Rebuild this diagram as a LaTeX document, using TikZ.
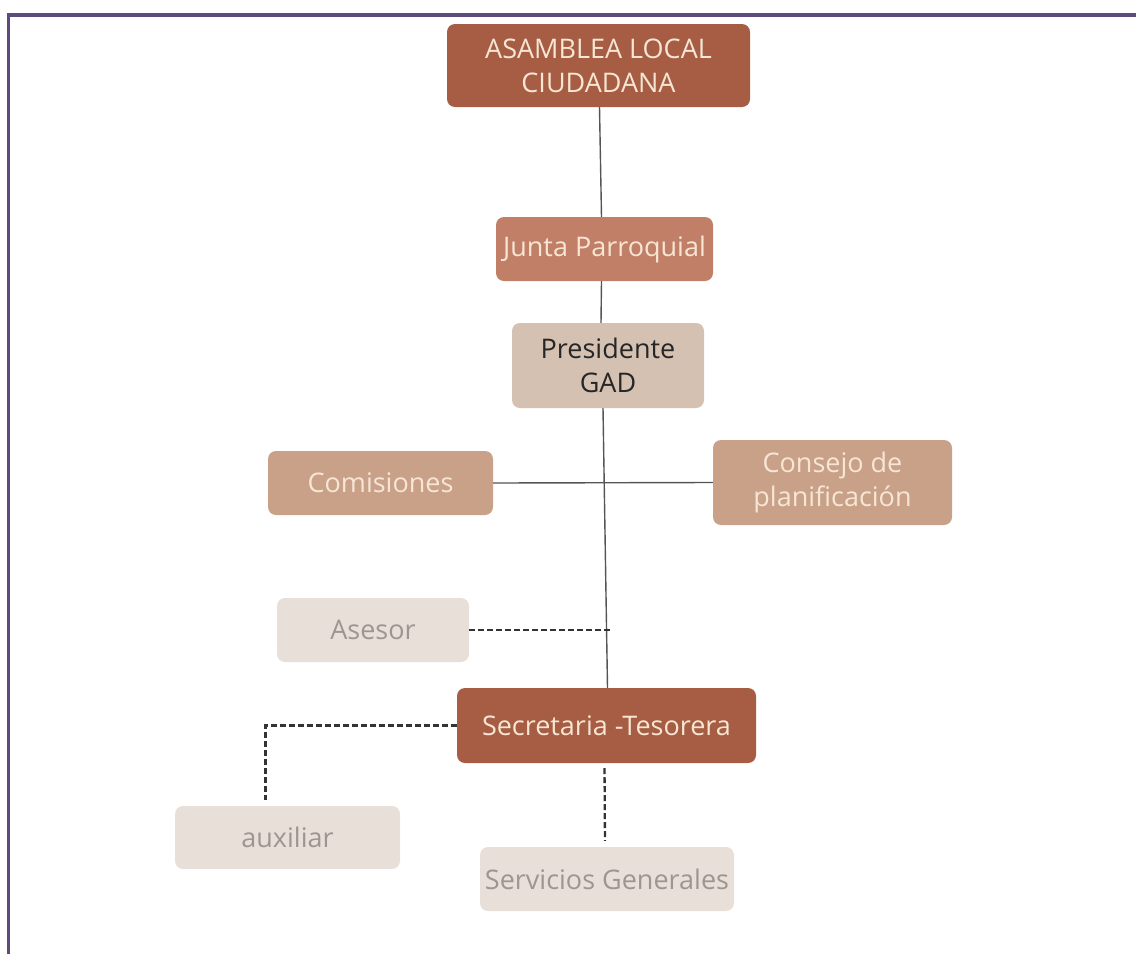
\documentclass[tikz,border=0pt]{standalone}
\usepackage{fontspec}
\setmainfont{Open Sans}
\usetikzlibrary{positioning}

\definecolor{framepurple}{HTML}{5E4B7C}
\definecolor{brick}{HTML}{A65D43}
\definecolor{clay}{HTML}{C17F68}
\definecolor{taupe}{HTML}{D5C1B2}
\definecolor{tan}{HTML}{C9A189}
\definecolor{sand}{HTML}{E8E0D8}
\definecolor{cream}{HTML}{F7E6D4}
\definecolor{softgray}{HTML}{9C9693}
\definecolor{linegray}{HTML}{555555}

\begin{document}
\begin{tikzpicture}[x=1pt,y=-1pt,
  box/.style={rounded corners=8pt, align=center, inner sep=0pt,
    font=\fontsize{27}{34}\selectfont},
  link/.style={draw=linegray, line width=1.4pt},
  dlink/.style={draw=black!80, line width=2.3pt, dash pattern=on 6pt off 3pt}]
  \useasboundingbox (0,0) rectangle (1136,954);
  \draw[framepurple, line width=3.5pt] (8.5,954) -- (8.5,15) -- (1136,15);

  % boxes
  \node[box, fill=brick, text=cream, minimum width=303pt, minimum height=83pt]
    (asamblea) at (598.5,65.5) {ASAMBLEA LOCAL\\CIUDADANA};
  \node[box, fill=clay, text=cream, minimum width=217pt, minimum height=64pt]
    (junta) at (604.5,249) {Junta Parroquial};
  \node[box, fill=taupe, text=black!85, minimum width=192pt, minimum height=85pt]
    (presidente) at (608,365.5) {Presidente\\GAD};
  \node[box, fill=tan, text=cream, minimum width=225pt, minimum height=64pt]
    (comisiones) at (380.5,483) {Comisiones};
  \node[box, fill=tan, text=cream, minimum width=239pt, minimum height=85pt]
    (consejo) at (832.5,482.5) {Consejo de\\planificación};
  \node[box, fill=sand, text=softgray, minimum width=192pt, minimum height=64pt]
    (asesor) at (373,630) {Asesor};
  \node[box, fill=brick, text=cream, minimum width=299pt, minimum height=75pt]
    (secretaria) at (606.5,725.5) {Secretaria -Tesorera};
  \node[box, fill=sand, text=softgray, minimum width=225pt, minimum height=63pt]
    (auxiliar) at (287.5,837.5) {auxiliar};
  \node[box, fill=sand, text=softgray, minimum width=254pt, minimum height=64pt]
    (servicios) at (607,879) {Servicios Generales};

  % solid lines
  \draw[link] ([xshift=1pt]asamblea.south) -- ([xshift=-3pt]junta.north);
  \draw[link] ([xshift=-3pt]junta.south) -- ([xshift=-7pt]presidente.north);
  \draw[link] ([xshift=-5pt]presidente.south) -- ([xshift=1pt]secretaria.north);
  \draw[link] (comisiones.east) -- (consejo.west);

  % dashed lines
  \draw[dlink] (asesor.east) -- ([xshift=3pt]asesor.east -| secretaria.north);
  \draw[dlink, shorten >=6pt] (secretaria.west) -| ([xshift=-22pt]auxiliar.north);
  \draw[dlink, shorten <=5pt, shorten >=6pt] ([xshift=-2pt]secretaria.south) -- ([xshift=-2pt]servicios.north);
\end{tikzpicture}
\end{document}
